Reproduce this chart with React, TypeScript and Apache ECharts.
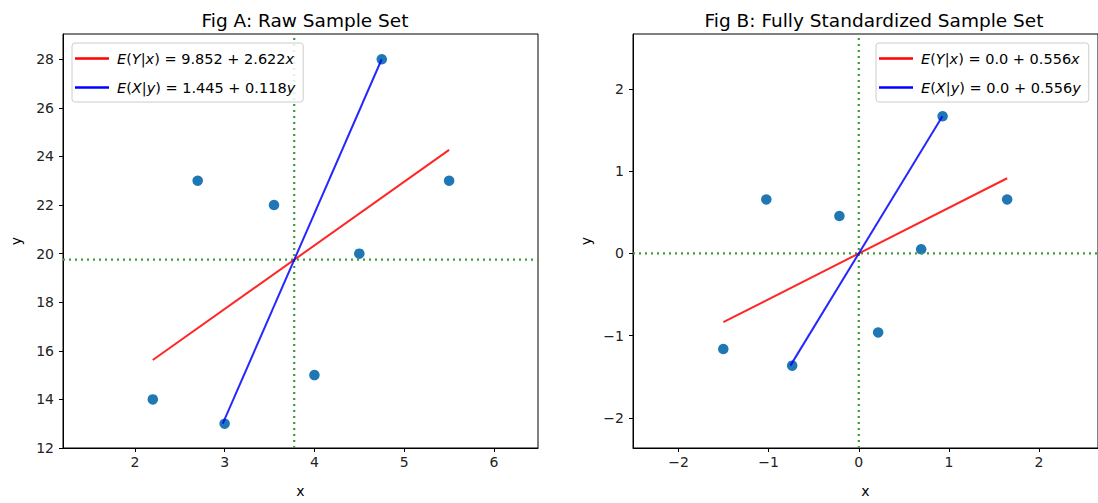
import { useEffect, useRef } from 'react';
import * as echarts from 'echarts';

// ---- data ----
const rawX = [2.2, 2.7, 3.0, 3.55, 4.0, 4.5, 4.75, 5.5];
const rawY = [14, 23, 13, 22, 15, 20, 28, 23];
const stdX = [-1.503, -1.026, -0.739, -0.215, 0.215, 0.692, 0.93, 1.646];
const stdY = [-1.163, 0.657, -1.365, 0.455, -0.961, 0.051, 1.669, 0.657];
const meanA = [3.775, 19.75];
const meanB = [0, 0];
const lineYxA = [[2.2, 15.62], [5.5, 24.27]];
const lineXyA = [[2.979, 13], [4.749, 28]];
const lineYxB = [[-1.503, -0.836], [1.646, 0.915]];
const lineXyB = [[-0.759, -1.365], [0.928, 1.669]];
const labelsA = ['E(Y|x) = 9.852 + 2.622x', 'E(X|y) = 1.445 + 0.118y'];
const labelsB = ['E(Y|x) = 0.0 + 0.556x', 'E(X|y) = 0.0 + 0.556y'];
const titles = ['Fig A: Raw Sample Set', 'Fig B: Fully Standardized Sample Set'];
const xTicksA = [2, 3, 4, 5, 6];
const yTicksA = [12, 14, 16, 18, 20, 22, 24, 26, 28];
const xTicksB = [-2, -1, 0, 1, 2];
const yTicksB = [-2, -1, 0, 1, 2];
const limitsA = [1.2, 6.49, 12, 29.04];
const limitsB = [-2.505, 2.654, -2.367, 2.67];

const FONT = '"DejaVu Sans", Verdana, sans-serif';
const RED = '#ff0000';
const BLUE = '#0000ff';
const GREEN = '#3c9c3c';
const DOT = '#1f77b4';

function richLabel(s: string): string {
  return s
    .split(/([A-Za-z])/)
    .filter((p) => p.length > 0)
    .map((p) => (/^[A-Za-z]$/.test(p) ? `{i|${p}}` : `{n|${p}}`))
    .join('');
}

function fmt(v: number): string {
  return String(v).replace('-', '\u2212');
}

function makeAxis(kind: 'x' | 'y', gridIndex: number, lim: number[], ticks: number[]) {
  const isX = kind === 'x';
  return {
    type: 'value',
    gridIndex,
    min: isX ? lim[0] : lim[2],
    max: isX ? lim[1] : lim[3],
    name: kind,
    nameLocation: 'middle',
    nameGap: isX ? 36 : 40,
    nameTextStyle: { fontFamily: FONT, fontSize: 14, color: '#000' },
    axisLine: { show: true, onZero: false, lineStyle: { color: '#000', width: 1 } },
    axisTick: {
      show: true,
      inside: false,
      length: 4,
      customValues: ticks,
      lineStyle: { color: '#000', width: 1 },
    },
    axisLabel: {
      show: true,
      customValues: ticks,
      margin: isX ? 7 : 9,
      fontFamily: FONT,
      fontSize: 14,
      color: '#222',
      formatter: (v: number) => fmt(v),
    },
    splitLine: { show: false },
  };
}

const legendRich = {
  i: { fontFamily: FONT, fontSize: 14.5, fontStyle: 'italic', color: '#000', lineHeight: 16 },
  n: { fontFamily: FONT, fontSize: 14.5, color: '#000', lineHeight: 16 },
};

function makeLegend(names: string[], left: number) {
  return {
    orient: 'vertical',
    left,
    top: 43,
    data: names,
    icon: 'rect',
    itemWidth: 34,
    itemHeight: 2.5,
    itemGap: 14,
    padding: [8, 8, 7, 3],
    backgroundColor: 'rgba(255,255,255,0.85)',
    borderColor: '#cccccc',
    borderWidth: 1,
    borderRadius: 3,
    selectedMode: false,
    formatter: (name: string) => richLabel(name),
    textStyle: { fontFamily: FONT, fontSize: 14.5, color: '#000', padding: [0, 0, 0, 3], rich: legendRich },
  };
}

function panelSeries(
  gi: number,
  xs: number[],
  ys: number[],
  mean: number[],
  lim: number[],
  lineYx: number[][],
  lineXy: number[][],
  labels: string[]
) {
  const pts = xs.map((x, i) => [x, ys[i]]);
  const dotted = {
    type: 'line',
    xAxisIndex: gi,
    yAxisIndex: gi,
    symbol: 'none',
    silent: true,
    z: 3,
    lineStyle: { color: GREEN, width: 2.2, type: [2, 4] },
  };
  return [
    {
      type: 'scatter',
      xAxisIndex: gi,
      yAxisIndex: gi,
      data: pts,
      symbolSize: 10.5,
      itemStyle: { color: DOT, opacity: 1 },
      z: 2,
    },
    { ...dotted, data: [[mean[0], lim[2]], [mean[0], lim[3]]] },
    { ...dotted, data: [[lim[0], mean[1]], [lim[1], mean[1]]] },
    {
      type: 'line',
      name: labels[0],
      xAxisIndex: gi,
      yAxisIndex: gi,
      data: lineYx,
      symbol: 'none',
      z: 4,
      itemStyle: { color: RED },
      lineStyle: { color: RED, width: 2, opacity: 0.85 },
    },
    {
      type: 'line',
      name: labels[1],
      xAxisIndex: gi,
      yAxisIndex: gi,
      data: lineXy,
      symbol: 'none',
      z: 4,
      itemStyle: { color: BLUE },
      lineStyle: { color: BLUE, width: 2, opacity: 0.85 },
    },
  ];
}

export default function App() {
  const ref = useRef<HTMLDivElement>(null);
  useEffect(() => {
    if (!ref.current) return;
    const chart = echarts.init(ref.current, null, { renderer: 'svg' });
    chart.setOption({
      animation: false,
      backgroundColor: '#ffffff',
      title: [
        {
          text: titles[0],
          left: 300,
          top: 6,
          textAlign: 'center',
          textStyle: { fontFamily: FONT, fontSize: 18.5, fontWeight: 'normal', color: '#000' },
        },
        {
          text: titles[1],
          left: 869,
          top: 6,
          textAlign: 'center',
          textStyle: { fontFamily: FONT, fontSize: 18.5, fontWeight: 'normal', color: '#000' },
        },
      ],
      grid: [
        { left: 63, top: 34, width: 475, height: 424, show: true, borderColor: '#000', borderWidth: 1, backgroundColor: 'transparent', containLabel: false },
        { left: 633, top: 34, width: 475, height: 424, show: true, borderColor: '#000', borderWidth: 1, backgroundColor: 'transparent', containLabel: false },
      ],
      xAxis: [makeAxis('x', 0, limitsA, xTicksA), makeAxis('x', 1, limitsB, xTicksB)],
      yAxis: [makeAxis('y', 0, limitsA, yTicksA), makeAxis('y', 1, limitsB, yTicksB)],
      legend: [makeLegend(labelsA, 72), makeLegend(labelsB, 876)],
      series: [
        ...panelSeries(0, rawX, rawY, meanA, limitsA, lineYxA, lineXyA, labelsA),
        ...panelSeries(1, stdX, stdY, meanB, limitsB, lineYxB, lineXyB, labelsB),
      ],
    });
    return () => chart.dispose();
  }, []);
  return (
    <div
      ref={ref}
      style={{ position: 'absolute', left: 0, top: 0, width: 1098, height: 503, background: '#fff' }}
    />
  );
}
